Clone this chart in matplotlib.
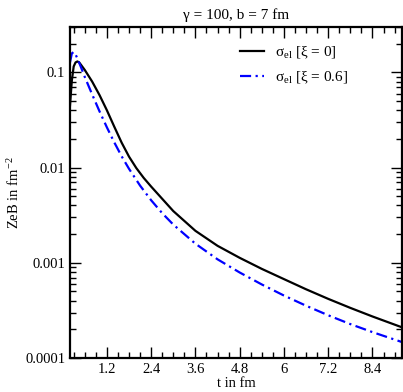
import matplotlib
matplotlib.use('Agg')
import matplotlib.pyplot as plt
from matplotlib.ticker import FixedLocator, NullFormatter, LogLocator

plt.rcParams['font.family'] = ['Liberation Serif', 'DejaVu Serif']
plt.rcParams['mathtext.fontset'] = 'custom'
plt.rcParams['mathtext.rm'] = 'Liberation Serif'
plt.rcParams['mathtext.it'] = 'Liberation Serif:italic'

# black curve, xi = 0
t_xi0 = [0.2, 0.25, 0.3, 0.35, 0.4, 0.45, 0.5, 0.6, 0.8, 1.0, 1.2, 1.4, 1.6, 1.8,
         2.0, 2.2, 2.4, 3.0, 3.6, 4.2, 4.8, 5.4, 6.0, 6.6, 7.2, 7.8, 8.4, 9.2]
b_xi0 = [0.045, 0.0824, 0.1156, 0.1273, 0.1304, 0.1273, 0.1199, 0.1062, 0.0802,
         0.0578, 0.04002, 0.02692, 0.01829, 0.01304, 0.00986, 0.00778, 0.00632,
         0.003495, 0.002167, 0.001508, 0.001128, 0.000863, 0.000674, 0.000527,
         0.000418, 0.000336, 0.000273, 0.00021]

# blue curve, xi = 0.6
t_xi06 = [0.2, 0.25, 0.3, 0.35, 0.4, 0.5, 0.6, 0.8, 1.0, 1.2, 1.4, 1.6, 1.8, 2.1,
          2.4, 2.7, 3.0, 3.6, 4.2, 4.8, 5.4, 6.0, 6.6, 7.2, 7.8, 8.4, 9.2]
b_xi06 = [0.1274, 0.1583, 0.1641, 0.1545, 0.1403, 0.1128, 0.0897, 0.0588, 0.039,
          0.02648, 0.01842, 0.01314, 0.00971, 0.00647, 0.00454, 0.00332, 0.00252,
          0.001587, 0.001088, 0.000791, 0.000592, 0.000453, 0.000354, 0.000281,
          0.000227, 0.000187, 0.000147]

x_major = [1.2, 2.4, 3.6, 4.8, 6.0, 7.2, 8.4]
x_labels = ['1.2', '2.4', '3.6', '4.8', '6', '7.2', '8.4']
y_major = [1e-4, 1e-3, 1e-2, 1e-1]
y_labels = ['0.0001', '0.001', '0.01', '0.1']

fig = plt.figure(figsize=(4.03, 3.92), dpi=100)
ax = fig.add_axes([70 / 403, 34 / 392, 332 / 403, 331 / 392])

ax.plot(t_xi0, b_xi0, color='black', lw=1.6, label='σ$_{\\rm el}$ [ξ = 0]')
ax.plot(t_xi06, b_xi06, color='#0000ff', lw=1.6, linestyle=(0, (5, 2, 1, 2)),
        label='σ$_{\\rm el}$ [ξ = 0.6]')

ax.set_yscale('log')
ax.set_xlim(0.2, 9.2)
ax.set_ylim(1e-4, 0.3)

ax.xaxis.set_major_locator(FixedLocator(x_major))
ax.set_xticklabels(x_labels)
minor_x = [round(0.3 * i, 2) for i in range(1, 31)]
minor_x = [m for m in minor_x if m not in x_major]
ax.xaxis.set_minor_locator(FixedLocator(minor_x))
ax.yaxis.set_major_locator(FixedLocator(y_major))
ax.set_yticklabels(y_labels)
ax.yaxis.set_minor_locator(LogLocator(base=10, subs=range(2, 10)))
ax.yaxis.set_minor_formatter(NullFormatter())

ax.tick_params(which='both', direction='in', top=True, right=True, labelsize=10.5)
ax.tick_params(which='major', length=8, width=1)
ax.tick_params(which='minor', length=4, width=1)
for s in ax.spines.values():
    s.set_linewidth(1.6)

ax.set_xlabel('t in fm', fontsize=10.5, labelpad=1)
ax.set_ylabel('ZeB in fm$^{-2}$', fontsize=10.5)
ax.yaxis.set_label_coords(-0.145, 0.5)
ax.set_title('γ = 100, b = 7 fm', fontsize=11, pad=6)

ax.legend(loc='upper left', bbox_to_anchor=((240 - 70) / 332, 0.945), frameon=False,
          borderaxespad=0, borderpad=0, fontsize=11, handlelength=1.6,
          handletextpad=0.7, labelspacing=0.55)

fig.savefig('out.png', dpi=100)
